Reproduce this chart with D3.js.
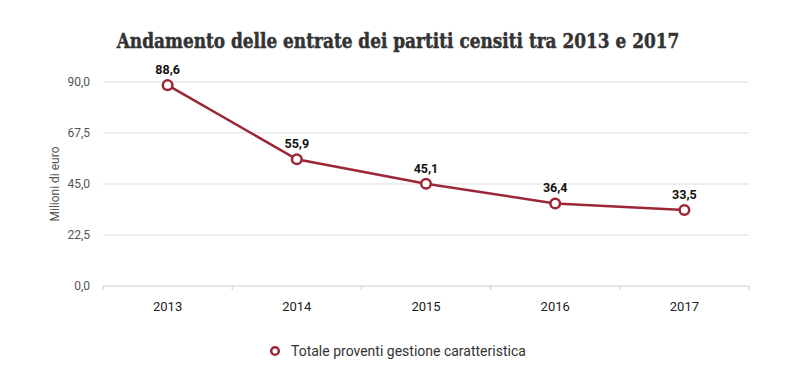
<!DOCTYPE html>
<html>
<head>
<meta charset="utf-8">
<script src="https://cdn.jsdelivr.net/npm/d3@7"></script>
<style>
  body { margin: 0; background: #fff; }
  text { font-family: Roboto, "Open Sans", sans-serif; }
</style>
</head>
<body>
<div id="chart"></div>
<script>
var years = ["2013", "2014", "2015", "2016", "2017"];
var entrate = [88.6, 55.9, 45.1, 36.4, 33.5];
var yTicks = [0, 22.5, 45, 67.5, 90];
var seriesName = "Totale proventi gestione caratteristica";

var W = 800, H = 382;
var margin = { top: 82, right: 51, bottom: 96, left: 103 },
    width = W - margin.left - margin.right,
    height = H - margin.top - margin.bottom;

var color = "#9c2636";
var fmt = function(v) { return d3.format(".1f")(v).replace(".", ","); };

var data = years.map(function(y, i) { return { year: y, value: entrate[i] }; });

var svg = d3.select("#chart").append("svg")
    .attr("width", W)
    .attr("height", H);

// title: slab-ish bold serif, squeezed horizontally to the reference width
var titleG = svg.append("g");
var title = titleG.append("text")
    .attr("x", 0)
    .attr("y", 0)
    .attr("text-anchor", "middle")
    .style("font-family", "'DejaVu Serif', serif")
    .style("font-weight", "bold")
    .style("font-size", "21px")
    .attr("fill", "#333")
    .attr("stroke", "#333")
    .attr("stroke-width", 0.5)
    .text("Andamento delle entrate dei partiti censiti tra 2013 e 2017");
var tl = title.node().getComputedTextLength();
titleG.attr("transform", "translate(398,48) scale(" + (563 / tl) + ",1)");

var plot = svg.append("g")
    .attr("transform", "translate(" + margin.left + "," + margin.top + ")");

var x = d3.scaleBand().domain(years).range([0, width]);
var y = d3.scaleLinear().domain([0, 90]).range([height, 0]);

// gridlines
plot.selectAll(".grid")
    .data(yTicks)
    .enter().append("line")
    .attr("x1", 0)
    .attr("x2", width)
    .attr("y1", function(d) { return y(d); })
    .attr("y2", function(d) { return y(d); })
    .attr("stroke", function(d) { return d === 0 ? "#ccc" : "#ddd"; })
    .attr("stroke-width", 1);

// y axis labels
var yAxis = d3.axisLeft(y).tickValues(yTicks).tickSize(0).tickPadding(13).tickFormat(fmt);
plot.append("g").call(yAxis)
    .call(function(g) { g.select(".domain").remove(); })
    .selectAll("text")
    .style("font-size", "12px")
    .attr("fill", "#555");

// x axis
var xAxis = d3.axisBottom(x).tickSize(0).tickPadding(16);
var xg = plot.append("g")
    .attr("transform", "translate(0," + height + ")")
    .call(xAxis);
xg.select(".domain").remove();
xg.selectAll("text")
    .style("font-size", "13px")
    .style("font-weight", "normal")
    .attr("fill", "#222");

// small x tick marks at band edges
var edges = years.map(function(d) { return x(d); }).concat([width]);
plot.selectAll(".xtick")
    .data(edges)
    .enter().append("line")
    .attr("x1", function(d) { return d; })
    .attr("x2", function(d) { return d; })
    .attr("y1", height)
    .attr("y2", height + 4)
    .attr("stroke", "#ccc");

svg.append("text")
    .attr("transform", "translate(59," + (margin.top + height / 2) + ") rotate(-90)")
    .attr("text-anchor", "middle")
    .style("font-size", "12px")
    .attr("fill", "#555")
    .text("Milioni di euro");

var line = d3.line()
    .x(function(d) { return x(d.year) + x.bandwidth() / 2; })
    .y(function(d) { return y(d.value); });

plot.append("path")
    .datum(data)
    .attr("d", line)
    .attr("fill", "none")
    .attr("stroke", color)
    .attr("stroke-width", 2.5);

plot.selectAll(".dot")
    .data(data)
    .enter().append("circle")
    .attr("cx", line.x())
    .attr("cy", line.y())
    .attr("r", 4.8)
    .attr("fill", "#fff")
    .attr("stroke", color)
    .attr("stroke-width", 2.5);

plot.selectAll(".lbl")
    .data(data)
    .enter().append("text")
    .attr("x", line.x())
    .attr("y", function(d) { return y(d.value) - 11; })
    .attr("text-anchor", "middle")
    .style("font-size", "12.5px")
    .style("font-weight", "bold")
    .attr("fill", "#111")
    .text(function(d) { return fmt(d.value); });

// legend
var leg = svg.append("g").attr("transform", "translate(275,351)");
leg.append("circle")
    .attr("r", 3.8)
    .attr("fill", "#fff")
    .attr("stroke", color)
    .attr("stroke-width", 2.5);
leg.append("text")
    .attr("x", 16)
    .attr("dy", "0.35em")
    .style("font-size", "14px")
    .attr("fill", "#333")
    .text(seriesName);
</script>
</body>
</html>
